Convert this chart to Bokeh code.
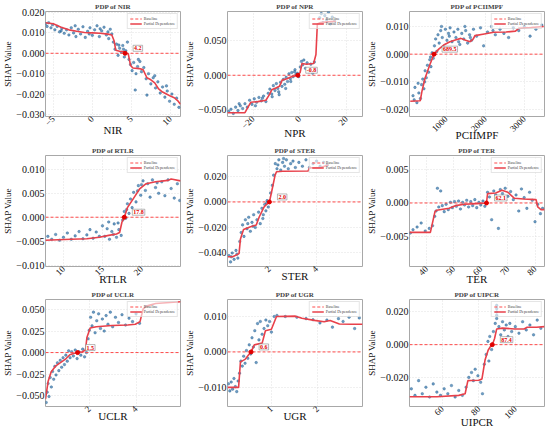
import math
from bokeh.plotting import figure
from bokeh.layouts import gridplot
from bokeh.models import (Range1d, FixedTicker, Label, Legend, LegendItem,
                          CustomJSTickFormatter)
from bokeh.embed import file_html
from bokeh.resources import INLINE

# ---------------- data ----------------
features = ["NIR", "NPR", "PCIIMPF", "RTLR", "STER", "TER", "UCLR", "UGR", "UIPCR"]
baseline = 0.0
crossings = [4.2, -0.8, 689.5, 17.8, 2.0, 62.1, 1.5, 0.56, 87.4]

nir_pts = [(-6.0,0.0145),(-5.8,0.0132),(-5.6,0.0150),(-5.3,0.0125),(-5.1,0.0140),(-4.8,0.0115),(-4.5,0.0132),(-4.2,0.0105),(-3.9,0.0122),(-3.6,0.0098),
           (-3.3,0.0115),(-3.0,0.0090),(-2.7,0.0125),(-2.4,0.0100),(-2.1,0.0082),(-1.8,0.0118),(-1.5,0.0095),(-1.2,0.0130),(-0.9,0.0078),(-0.6,0.0108),
           (-0.3,0.0125),(0.0,0.0088),(0.3,0.0115),(0.6,0.0135),(0.9,0.0082),(1.2,0.0110),(1.5,0.0128),(1.8,0.0090),(2.1,0.0072),(2.3,0.0118),
           (2.5,0.0095),(2.7,0.0055),(2.9,0.0020),(3.1,0.0045),(3.3,-0.0010),(3.5,0.0025),(3.7,0.0005),(3.9,0.0038),(4.1,-0.0018),(4.3,0.0012),
           (4.5,0.0055),(4.7,-0.0030),(4.9,-0.0055),(5.1,-0.0085),(5.3,-0.0045),(5.6,-0.0100),(5.8,-0.0065),(6.1,-0.0040),(6.3,-0.0090),(6.6,-0.0070),
           (6.9,-0.0125),(7.2,-0.0100),(7.5,-0.0150),(7.8,-0.0120),(8.1,-0.0170),(8.4,-0.0140),(8.7,-0.0195),(9.0,-0.0165),(9.3,-0.0215),(9.6,-0.0185),
           (9.9,-0.0235),(10.2,-0.0200),(10.5,-0.0250),(10.8,-0.0220),(11.1,-0.0265),(5.5,-0.0180),(7.0,-0.0205),
           (-4.0,0.0110),(-2.2,0.0135),(-0.4,0.0095),(1.0,0.0120),(2.0,0.0105),(3.4,0.0040),(4.0,0.0020),(5.9,-0.0030),(8.0,-0.0110),(9.5,-0.0160)]
nir_pdp = [(-6.0,0.0150),(-5.0,0.0145),(-4.0,0.0128),(-3.0,0.0115),(-2.0,0.0108),(-1.0,0.0102),(0.0,0.0100),(1.0,0.0098),(2.0,0.0094),(2.5,0.0090),
           (2.8,0.0060),(3.0,0.0015),(3.5,0.0010),(4.0,0.0008),(4.2,0.0000),(4.6,-0.0002),(4.9,-0.0060),(5.2,-0.0072),(6.0,-0.0075),(6.5,-0.0080),
           (7.0,-0.0120),(7.5,-0.0130),(8.0,-0.0145),(8.5,-0.0175),(9.0,-0.0190),(9.5,-0.0200),(10.0,-0.0210),(10.5,-0.0218),(11.0,-0.0235),(11.3,-0.0250)]

npr_pts = [(-30.5,-0.052),(-29.5,-0.049),(-28.5,-0.055),(-27.5,-0.046),(-26.5,-0.051),(-25.5,-0.044),(-24.5,-0.048),(-23.5,-0.041),(-22.5,-0.046),(-21.5,-0.036),
           (-20.5,-0.042),(-19.5,-0.034),(-18.5,-0.039),(-17.5,-0.032),(-16.5,-0.037),(-15.5,-0.030),(-14.5,-0.038),(-13.5,-0.026),(-12.8,-0.020),(-12.0,-0.027),
           (-11.3,-0.015),(-10.6,-0.022),(-10.0,-0.012),(-9.4,-0.019),(-8.8,-0.028),(-8.2,-0.010),(-7.6,-0.016),(-7.0,-0.006),(-6.4,-0.013),(-5.8,-0.003),
           (-5.2,-0.009),(-4.6,0.002),(-4.0,-0.005),(-3.4,0.004),(-2.8,-0.002),(-2.2,0.005),(-1.6,0.001),(-1.0,0.003),(-0.4,-0.002),(0.3,0.012),
           (0.8,0.020),(1.3,0.015),(1.8,0.022),(2.5,0.010),(3.2,0.018),(4.0,0.005),(4.8,0.016),(5.6,0.003),(6.3,0.019),(8.6,0.083),
           (9.3,0.089),(10.0,0.076),(10.8,0.086),(11.6,0.080),(12.4,0.091),(13.2,0.074),(14.0,0.084),(15.0,0.078),
           (-26.0,-0.041),(-19.0,-0.044),(-16.0,-0.033),(-11.8,-0.031),(-9.0,-0.024),(-6.0,-0.019),(-3.8,-0.009),(-2.0,0.008)]
npr_pdp = [(-31,-0.054),(-23.5,-0.054),(-22,-0.045),(-21,-0.039),(-18,-0.038),(-14.5,-0.036),(-13,-0.028),(-12,-0.021),(-10,-0.018),(-8.7,-0.016),
           (-7.5,-0.007),(-5.5,-0.005),(-3.5,-0.002),(-2,-0.001),(-0.8,0.0),(0.2,0.004),(1.0,0.017),(3,0.016),(6,0.017),(7,0.030),
           (7.6,0.074),(9.0,0.076),(12,0.077),(15.5,0.078)]

pci_pts = [(150,-0.0150),(200,-0.0120),(250,-0.0175),(300,-0.0140),(340,-0.0160),(370,-0.0110),(400,-0.0090),(430,-0.0125),(460,-0.0060),(490,-0.0085),
           (520,-0.0040),(550,-0.0065),(580,-0.0020),(610,-0.0045),(640,0.0005),(670,-0.0015),(700,0.0030),(730,0.0055),(760,0.0010),(790,0.0070),
           (820,0.0040),(860,0.0085),(900,0.0060),(940,0.0025),(980,0.0090),(1020,0.0050),(1060,0.0075),(1100,0.0095),(1150,0.0045),(1200,0.0080),
           (1250,0.0060),(1300,0.0090),(1350,0.0035),(1400,0.0075),(1450,0.0055),(1500,0.0085),(1550,0.0040),(1600,0.0070),(1650,0.0050),(1700,0.0090),
           (1780,0.0065),(1880,0.0095),(1960,0.0030),(2060,0.0080),(2160,0.0100),(2260,0.0070),(2380,0.0090),(2480,0.0075),(2600,0.0060),(2720,0.0095),
           (2860,0.0085),(3000,0.0100),(3150,0.0065),(3300,0.0090),(3450,0.0105),
           (180,-0.0165),(280,-0.0105),(450,-0.0100),(600,-0.0010),(880,0.0100),(1080,0.0065),(1320,0.0045),(1480,0.0100),(1620,0.0060),(2200,0.0085)]
pci_pdp = [(80,-0.0170),(336,-0.0168),(376,-0.0136),(456,-0.0088),(576,-0.0040),(640,-0.0017),(689.5,0.0),(816,0.0019),(936,0.0033),(1096,0.0045),
           (1256,0.0052),(1376,0.0057),(1496,0.0050),(1616,0.0045),(1696,0.0055),(1736,0.0067),(1976,0.0073),(2216,0.0079),(2536,0.0080),(2776,0.0083),
           (2856,0.0093),(3176,0.0096),(3500,0.0100)]

rtlr_pts = [(8.0,-0.0040),(8.5,-0.0046),(9.0,-0.0036),(9.5,-0.0048),(10.0,-0.0042),(10.5,-0.0033),(11.0,-0.0046),(11.5,-0.0039),(12.0,-0.0030),(12.5,-0.0045),
            (13.0,-0.0037),(13.4,-0.0026),(13.8,-0.0044),(14.2,-0.0031),(14.6,-0.0040),(15.0,-0.0018),(15.3,-0.0040),(15.6,-0.0024),(15.9,-0.0046),(16.2,-0.0030),
            (16.5,-0.0014),(16.8,-0.0042),(17.1,-0.0026),(17.4,-0.0038),(17.6,-0.0006),(17.8,0.0012),(18.0,-0.0002),(18.2,0.0028),(18.4,0.0008),(18.6,0.0038),
            (18.8,0.0020),(19.0,0.0052),(19.3,0.0032),(19.6,0.0066),(19.9,0.0046),(20.2,0.0076),(20.5,0.0056),(20.8,0.0070),(21.1,0.0042),(21.4,0.0078),
            (21.8,0.0062),(22.2,0.0050),(22.6,0.0074),(23.0,0.0045),(23.4,0.0078),(23.8,0.0060),(24.2,0.0040),(24.6,0.0070),(24.9,0.0035),
            (15.8,-0.0010),(16.4,-0.0036),(17.0,-0.0012),(18.1,0.0016),(19.5,0.0055),(20.0,0.0068),(22.0,0.0072)]
rtlr_pdp = [(7.7,-0.0048),(11,-0.0046),(13,-0.0045),(14.6,-0.0042),(15.8,-0.0038),(16.8,-0.0035),(17.2,-0.0032),(17.5,-0.0010),(17.8,0.0),(18.2,0.0020),
            (19.0,0.0040),(19.8,0.0060),(20.6,0.0070),(21.8,0.0074),(23.4,0.0077),(23.8,0.0080),(25.0,0.0076)]

ster_pts = [(0.28,-0.042),(0.35,-0.047),(0.42,-0.040),(0.50,-0.045),(0.58,-0.038),(0.66,-0.044),(0.74,-0.031),(0.80,-0.024),(0.86,-0.018),(0.92,-0.027),
            (0.98,-0.014),(1.05,-0.021),(1.12,-0.012),(1.19,-0.023),(1.26,-0.016),(1.33,-0.010),(1.40,-0.020),(1.47,-0.014),(1.54,-0.008),(1.61,-0.017),
            (1.68,-0.005),(1.74,-0.010),(1.80,-0.002),(1.85,-0.007),(1.90,0.001),(1.95,-0.004),(2.05,0.007),(2.12,0.013),(2.18,0.021),(2.25,0.030),
            (2.32,0.026),(2.40,0.033),(2.48,0.025),(2.56,0.031),(2.64,0.028),(2.72,0.033),(2.80,0.026),(2.90,0.030),(3.00,0.032),(3.10,0.027),
            (3.25,0.031),(3.40,0.028),(3.55,0.033),(3.70,0.027),(3.85,0.030),(4.00,0.032),(4.15,0.028),(4.30,0.031),(4.45,0.029),
            (0.38,-0.043),(0.62,-0.041),(1.08,-0.017),(1.30,-0.019),(1.72,-0.013),(1.88,-0.001),(2.36,0.029),(2.60,0.034)]
ster_pdp = [(0.24,-0.043),(0.44,-0.043),(0.71,-0.0405),(0.77,-0.029),(0.9,-0.0216),(1.17,-0.0196),(1.44,-0.018),(1.57,-0.0116),(1.77,-0.004),(1.9,-0.0015),
            (2.0,0.0),(2.1,0.0086),(2.24,0.021),(2.3,0.0237),(2.57,0.0240),(3.64,0.0242),(3.7,0.0267),(4.17,0.0270),(4.5,0.0290)]

ter_pts = [(34.0,-0.0045),(35.0,-0.0040),(36.5,-0.0036),(38.0,-0.0030),(39.5,-0.0042),(41.0,-0.0038),(42.2,-0.0034),(43.0,-0.0020),(43.5,-0.0012),(44.0,0.0022),
           (44.5,-0.0006),(45.2,0.0018),(45.8,-0.0004),(46.5,-0.0013),(47.2,-0.0002),(48.0,-0.0010),(48.8,0.0001),(49.5,-0.0007),(50.3,0.0002),(51.0,-0.0005),
           (51.8,0.0003),(52.5,-0.0009),(53.3,0.0001),(54.0,-0.0003),(54.8,0.0004),(55.5,-0.0006),(56.3,0.0002),(57.0,-0.0004),(57.8,0.0005),(58.5,-0.0007),
           (59.3,0.0001),(60.0,-0.0003),(60.8,0.0003),(61.5,-0.0005),(62.5,0.0016),(63.2,0.0009),(64.0,-0.0025),(64.8,0.0018),(65.5,0.0012),(66.5,-0.0038),
           (67.2,0.0020),(68.0,0.0014),(69.0,0.0022),(70.0,0.0010),(71.0,0.0017),(72.0,0.0005),(73.0,0.0012),(74.0,-0.0012),(75.0,0.0021),(76.0,0.0008),
           (77.0,-0.0008),(78.0,0.0016),(79.0,0.0004),(80.0,-0.0028),(81.0,-0.0002),(82.0,-0.0016),(82.8,-0.0008)]
ter_pdp = [(33.7,-0.0044),(41.4,-0.0044),(43.1,-0.0013),(43.7,-0.0011),(48.3,-0.0008),(50.6,-0.0004),(54,-0.0002),(58.6,-0.0001),(62.1,0.0),(62.5,0.0014),
           (65.5,0.0015),(67.8,0.0019),(70,0.0016),(72.4,0.0007),(75.8,0.0006),(80.4,0.0005),(81,-0.0006),(82.2,-0.0010),(83.5,-0.0010)]

uclr_pts = [(0.16,-0.058),(0.20,-0.046),(0.24,-0.036),(0.28,-0.051),(0.33,-0.029),(0.38,-0.040),(0.43,-0.022),(0.48,-0.031),(0.53,-0.016),(0.58,-0.026),
            (0.64,-0.012),(0.70,-0.021),(0.76,-0.009),(0.82,-0.017),(0.88,-0.006),(0.94,-0.014),(1.00,-0.003),(1.06,-0.010),(1.12,0.002),(1.18,-0.006),
            (1.25,0.001),(1.32,-0.004),(1.40,0.003),(1.48,-0.007),(1.56,0.001),(1.64,-0.003),(1.72,0.004),(1.80,-0.005),(1.88,0.000),(1.95,0.016),
            (2.00,0.026),(2.06,0.041),(2.12,0.031),(2.18,0.047),(2.25,0.023),(2.32,0.037),(2.40,0.045),(2.48,0.028),(2.56,0.039),(2.64,0.025),
            (2.72,0.043),(2.80,0.033),(2.90,0.047),(3.00,0.030),(3.12,0.041),(3.25,0.035),(3.40,0.044),(3.55,0.032),(3.70,0.040),(3.85,0.036),
            (4.00,0.045),(4.15,0.034)]
uclr_pdp = [(0.13,-0.054),(0.24,-0.0337),(0.37,-0.0227),(0.57,-0.0154),(0.77,-0.0117),(0.97,-0.008),(1.17,-0.0026),(1.37,-0.0007),(1.5,0.0),(1.7,0.001),
            (1.84,0.003),(1.9,0.0176),(2.04,0.0286),(2.3,0.030),(2.97,0.0315),(3.64,0.032),(3.97,0.033),(4.17,0.036),(4.3,0.0505),(4.44,0.054),
            (4.84,0.057),(5.9,0.059)]

ugr_pts = [(0.07,-0.0090),(0.10,-0.0110),(0.13,-0.0085),(0.16,-0.0105),(0.19,-0.0075),(0.22,-0.0098),(0.25,-0.0112),(0.28,-0.0082),(0.31,-0.0060),(0.34,-0.0026),
           (0.37,-0.0040),(0.40,-0.0012),(0.43,-0.0032),(0.46,0.0004),(0.49,-0.0018),(0.52,0.0020),(0.55,-0.0006),(0.58,0.0040),(0.61,0.0014),(0.64,0.0060),
           (0.67,-0.0030),(0.70,0.0080),(0.73,0.0034),(0.76,0.0086),(0.80,0.0050),(0.84,0.0066),(0.88,0.0090),(0.92,0.0074),(0.96,0.0086),(1.00,0.0056),
           (1.06,0.0100),(1.12,0.0103),(1.30,0.0100),(1.55,0.0098),(1.75,0.0094),(1.90,0.0091),(2.05,0.0082),(2.20,0.0090),(2.32,0.0070),(2.45,0.0094),
           (2.55,0.0086),(2.68,0.0098),(2.80,0.0066),(2.90,0.0096)]
ugr_pdp = [(0.05,-0.010),(0.29,-0.010),(0.33,-0.0028),(0.43,-0.0021),(0.52,-0.0006),(0.56,0.0),(0.63,0.002),(0.8,0.0025),(0.87,0.006),(1.0,0.0064),
           (1.11,0.010),(1.52,0.0101),(1.66,0.0095),(1.93,0.0089),(2.14,0.0085),(2.27,0.0089),(2.47,0.0079),(2.75,0.0078),(2.97,0.0078)]

uipcr_pts = [(43,-0.027),(45,-0.031),(47,-0.022),(49,-0.030),(51,-0.026),(53,-0.032),(55,-0.024),(57,-0.029),(59,-0.031),(61,-0.027),
             (63,-0.030),(65,-0.025),(67,-0.032),(69,-0.028),(71,-0.031),(73,-0.026),(74.5,-0.020),(76,-0.017),(77,-0.022),(78,-0.015),
             (79.5,-0.019),(81,-0.023),(82,-0.030),(83,-0.012),(84,-0.006),(85,0.002),(85.5,-0.010),(86,0.005),(87,-0.003),(88,0.008),
             (89,0.013),(89.8,0.016),(89.8,0.018),(89.8,0.020),(89.8,0.022),(89.8,0.024),(91,0.011),(92,0.006),(93,0.014),(94,0.009),
             (95,0.012),(96,0.005),(97,0.013),(98,0.008),(100,0.011),(102,0.007),(104,0.014),(106,0.009),(108,0.012),(110,0.006),
             (112,0.015),(114,0.010)]
uipcr_pdp = [(42,-0.0318),(57,-0.0318),(69,-0.031),(72.5,-0.030),(74,-0.022),(75.8,-0.0219),(80,-0.0218),(81.7,-0.021),(83.4,-0.0094),(85.1,-0.0034),
             (86.4,-0.001),(87.4,0.0),(88.6,0.0036),(89.8,0.0096),(92.9,0.0101),(99.7,0.0096),(104.8,0.0096),(106.5,0.0106),(111.6,0.0106),(116,0.011)]

x_ticks = [[-5, 0, 5, 10], [-20, 0, 20], [1000, 2000, 3000], [10, 15, 20], [2, 4],
           [40, 50, 60, 70, 80], [2, 4], [1, 2], [60, 80, 100]]
y_ticks = [[-0.03, -0.02, -0.01, 0, 0.01, 0.02], [-0.05, 0, 0.05], [-0.02, -0.01, 0, 0.01],
           [-0.01, -0.005, 0, 0.005, 0.01], [-0.04, -0.02, 0, 0.02], [-0.005, 0, 0.005],
           [-0.05, -0.025, 0, 0.025, 0.05], [-0.01, 0, 0.01], [-0.02, 0, 0.02]]

# ---------------- layout ----------------
x_ranges = [(-6.0, 11.3), (-31, 27), (60, 3520), (7.7, 25.0), (0.22, 5.95),
            (33.7, 83.5), (0.13, 5.9), (0.05, 2.97), (42, 116)]
y_ranges = [(-0.031, 0.0205), (-0.0595, 0.092), (-0.0225, 0.0154), (-0.0103, 0.0129),
            (-0.0506, 0.0364), (-0.0095, 0.0071), (-0.0627, 0.0617), (-0.0154, 0.0148),
            (-0.0378, 0.0276)]
points = [nir_pts, npr_pts, pci_pts, rtlr_pts, ster_pts, ter_pts, uclr_pts, ugr_pts, uipcr_pts]
pdps = [nir_pdp, npr_pdp, pci_pdp, rtlr_pdp, ster_pdp, ter_pdp, uclr_pdp, ugr_pdp, uipcr_pdp]

SERIF = "Liberation Serif"
W = 182
HS = [144, 144, 143]

yfmt_code = "return (tick < -1e-12 ? '\u2212' : '') + Math.abs(tick).toFixed(3);"
xfmt_code = "return (tick < 0 ? '\u2212' : '') + Math.abs(tick).toFixed(0);"


def make_panel(i):
    name = features[i]
    h = HS[i // 3]
    p = figure(width=W, height=h, output_backend="svg", toolbar_location=None,
               x_range=Range1d(*x_ranges[i]), y_range=Range1d(*y_ranges[i]),
               min_border_left=36, min_border_right=2, min_border_top=2, min_border_bottom=0)
    p.title.text = "PDP of " + name
    p.title.text_font = SERIF
    p.title.text_font_size = "7px"
    p.title.text_font_style = "bold"
    p.title.align = "center"
    p.title.standoff = 1
    p.outline_line_color = "#a8a8a8"
    p.outline_line_width = 1
    p.background_fill_color = "white"
    p.border_fill_color = "white"

    for g in (p.xgrid, p.ygrid):
        g.grid_line_color = "#d9d9d9"
        g.grid_line_dash = "1 2"
        g.grid_line_width = 0.8

    xa, ya = p.xaxis[0], p.yaxis[0]
    xa.ticker = FixedTicker(ticks=x_ticks[i])
    ya.ticker = FixedTicker(ticks=y_ticks[i])
    xa.formatter = CustomJSTickFormatter(code=xfmt_code)
    ya.formatter = CustomJSTickFormatter(code=yfmt_code)
    for a in (xa, ya):
        a.axis_line_color = None
        a.major_tick_line_color = None
        a.minor_tick_line_color = None
        a.major_tick_in = 0
        a.major_tick_out = 0
        a.minor_tick_in = 0
        a.minor_tick_out = 0
        a.major_label_text_font = SERIF
        a.major_label_text_color = "#111111"
        a.major_label_standoff = 1
        a.axis_label_text_font = SERIF
        a.axis_label_text_font_style = "normal"
        a.axis_label_text_color = "#111111"
        a.axis_label_standoff = 0
    ya.major_label_text_font_size = "10px"
    xa.major_label_text_font_size = "9px"
    xa.major_label_orientation = math.pi / 4
    xa.axis_label = name
    xa.axis_label_text_font_size = "11px"
    xa.axis_label_standoff = -8
    ya.axis_label = "SHAP Value"
    ya.axis_label_text_font_size = "9px"

    sx = [pt[0] for pt in points[i]]
    sy = [pt[1] for pt in points[i]]
    p.scatter(sx, sy, size=2.6, fill_color="#2f73ad", line_color="#17507f",
              line_width=0.4, fill_alpha=0.7, line_alpha=0.8)

    bx = list(x_ranges[i])
    bl = p.line(bx, [baseline, baseline], line_color="#ff4a4a", line_dash="3 2", line_width=1)

    px = [pt[0] for pt in pdps[i]]
    py = [pt[1] for pt in pdps[i]]
    pl = p.line(px, py, line_color="#e8404a", line_width=1.6)

    x0 = crossings[i]
    p.scatter([x0], [baseline], size=4, color="#e00000")
    lab = Label(x=x0, y=baseline, text="%.1f" % x0, x_offset=8, y_offset=2,
                text_font=SERIF, text_font_size="6px", text_font_style="bold",
                text_color="#e00000", background_fill_color="white",
                background_fill_alpha=0.9, border_line_color="#888888",
                border_line_width=0.6, padding=1)
    p.add_layout(lab)

    leg = Legend(items=[LegendItem(label="Baseline", renderers=[bl]),
                        LegendItem(label="Partial Dependence", renderers=[pl])],
                 location="top_right", label_text_font=SERIF,
                 label_text_font_size="4px", label_height=5, glyph_height=5,
                 glyph_width=12, spacing=0, padding=2, margin=2, label_standoff=2,
                 border_line_color="#cccccc", border_line_width=0.5,
                 background_fill_alpha=0.6)
    p.add_layout(leg)
    return p


figs = [make_panel(i) for i in range(9)]
grid = gridplot([figs[0:3], figs[3:6], figs[6:9]], toolbar_location=None)

open("out.html", "w").write(file_html(grid, INLINE))
